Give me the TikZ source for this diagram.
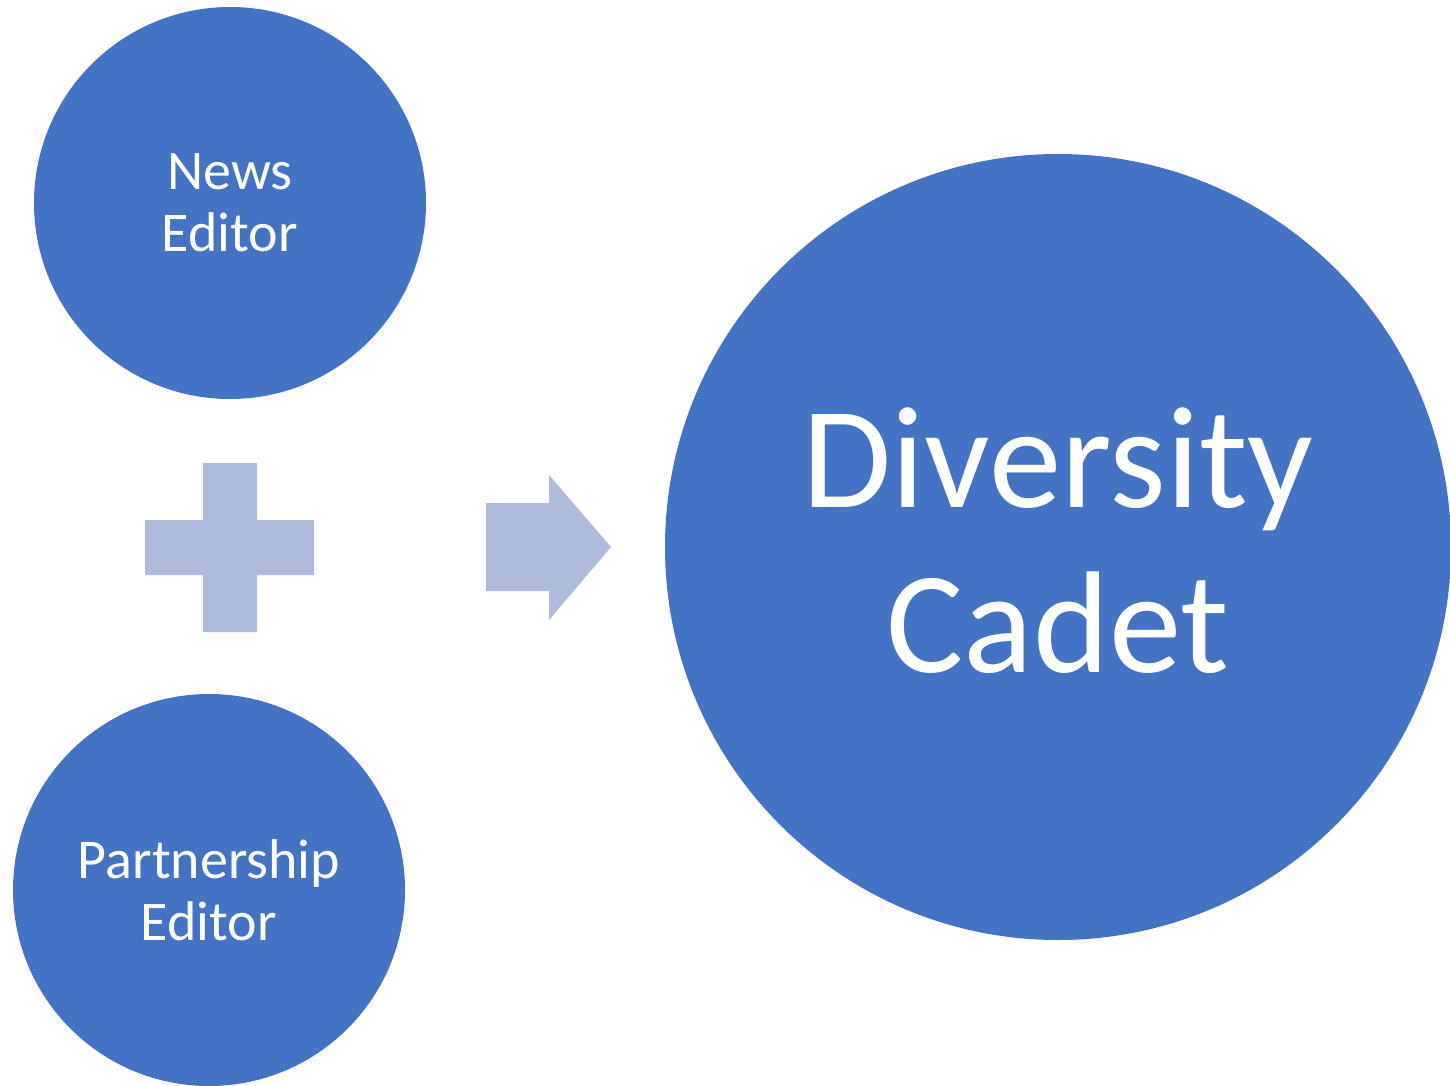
\documentclass[tikz,border=0pt]{standalone}
\usepackage{fontspec}
\setmainfont{Carlito}
\definecolor{circblue}{HTML}{4472C4}
\definecolor{lightblue}{RGB}{175,187,221}
\begin{document}
\begin{tikzpicture}[x=1pt,y=-1pt,
  bubble/.style={circle,fill=circblue,draw=none,inner sep=0pt,text=white,align=center},
  small/.style={bubble,minimum size=392pt,font=\fontsize{56}{62}\selectfont},
  big/.style={bubble,minimum size=786pt},
  bigtext/.style={text=white,align=center,inner sep=0pt,font=\fontsize{145}{165}\selectfont},
  symb/.style={fill=lightblue,draw=none}]
\useasboundingbox (0,0) rectangle (1450,1086);
\node[small] (news) at (230,203) {News\\Editor};
\node[small] (partner) at (209,890) {Partnership\\Editor};
\node[big] (cadet) at (1058,547) {};
\node[bigtext,yshift=6pt] (cadettext) at (cadet.center) {Diversity\\Cadet};
% plus sign
\fill[symb] (203,463) -- (257,463) -- (257,520) -- (314,520) -- (314,575) -- (257,575)
  -- (257,632) -- (203,632) -- (203,575) -- (145,575) -- (145,520) -- (203,520) -- cycle;
% arrow
\fill[symb] (486,503) -- (549,503) -- (549,475) -- (611,547) -- (549,620) -- (549,591)
  -- (486,591) -- cycle;
\end{tikzpicture}
\end{document}
